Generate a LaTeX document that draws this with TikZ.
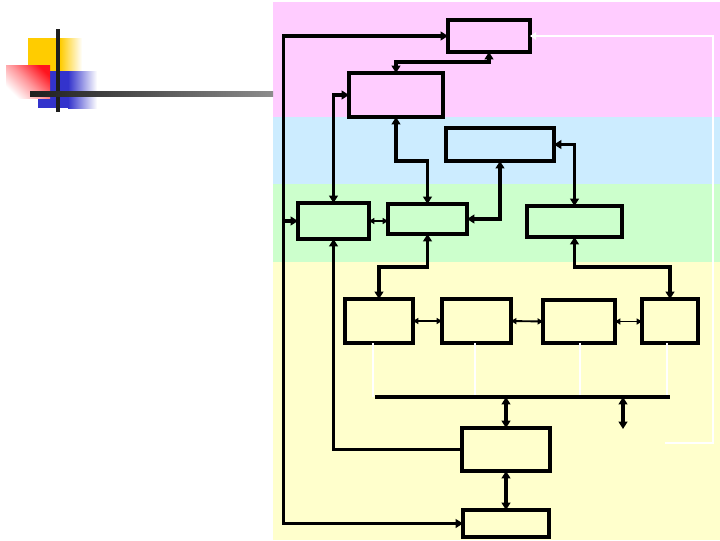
\documentclass[tikz,border=0pt]{standalone}
\usetikzlibrary{arrows.meta,shadings}
\definecolor{bpink}{RGB}{255,204,255}
\definecolor{bblue}{RGB}{204,236,255}
\definecolor{bgreen}{RGB}{204,255,204}
\definecolor{byellow}{RGB}{255,255,204}
\definecolor{lyellow}{RGB}{255,204,0}
\definecolor{lblue}{RGB}{51,51,204}
\definecolor{lred}{RGB}{255,20,30}
\definecolor{ldark}{RGB}{30,30,30}
\tikzset{
  Tk/.tip={Triangle[length=5.5pt,width=6.5pt]},
  Tn/.tip={Triangle[length=4pt,width=4.5pt]},
  box/.style={draw=black,line width=2.7pt,fill=none,inner sep=0pt,outer sep=0pt},
  con/.style={line width=2.7pt,draw=black},
  thn/.style={line width=1.4pt,draw=black},
  wht/.style={line width=1.8pt,draw=white},
}
\newcommand\blk[5]{\node[box,minimum width=#4*0.75pt,minimum height=#5*0.75pt] (#1) at (#2,#3) {};}
\begin{document}
\begin{tikzpicture}[x=0.75pt,y=-0.75pt]
\useasboundingbox (0,0) rectangle (720,540);
% background bands
\fill[bpink] (273,2) rectangle (720,117);
\fill[bblue] (273,117) rectangle (720,184);
\fill[bgreen] (273,184) rectangle (720,262);
\fill[byellow] (273,262) rectangle (720,540);
% logo
\fill[lyellow] (28,38) rectangle (60,71);
\shade[left color=lyellow,right color=white] (60,38) rectangle (82,71);
\fill[lblue] (38,71) rectangle (68,108);
\shade[left color=lblue,right color=white] (68,71) rectangle (97,108);
\shade[top color=lred,bottom color=white,middle color=lred!45,shading angle=-45] (6,65) rectangle (50,98);
\fill[ldark] (56,29) rectangle (60,112);
\shade[left color=ldark,right color=black!45] (30,91) rectangle (273,96);
% boxes
\blk{A}{489}{36}{82}{32}
\blk{B}{396}{95}{94}{44}
\blk{C}{500}{144.5}{108}{33}
\blk{D}{333.5}{221}{71}{36}
\blk{E}{427.5}{219}{79}{30}
\blk{F}{574.5}{221.5}{95}{31}
\blk{G1}{379}{321}{68}{44}
\blk{G2}{476.5}{321}{69}{44}
\blk{G3}{579}{321.5}{72}{43}
\blk{G4}{670}{321}{56}{44}
\blk{H}{506}{449.5}{88}{43}
\blk{I}{506}{523.5}{86}{27}
% coordinates
\coordinate (L) at (284,221);
\coordinate (bus1) at (375,397);
\coordinate (bus2) at (670,397);
\coordinate (x1) at (623,397);
\coordinate (x2) at (623,429);
\coordinate (w0) at (665,443);
\coordinate (w1) at (713,443);
% thick connectors
\draw[con,Tk-Tk] (A.west) -- ++(-164.5,0) |- (I.west);
\draw[con,-Tk] (L) -- (D.west);
\draw[con,Tk-Tk] (B.west) -| (D.north);
\draw[con,Tk-Tk] (A.south) -- ++(0,10) -| (B.north);
\draw[con,Tk-Tk] (B.south) -- ++(0,44) -| (E.north);
\draw[con,Tk-Tk] (C.south) |- (E.east);
\draw[con,Tk-Tk] (C.east) -| (F.north);
\draw[con,Tk-Tk] (E.south) -- ++(0,33) -| (G1.north);
\draw[con,Tk-Tk] (F.south) -- ++(0,30) -| (G4.north);
\draw[con,Tk-Tk] (H.north |- bus1) -- (H.north);
\draw[con,Tk-Tk] (x1) -- (x2);
\draw[con,Tk-Tk] (H.south) -- (I.north);
% bus and white feeders
\draw[wht] ([xshift=-4.5pt]G1.south) -- ([xshift=-4.5pt]G1.south |- bus1);
\draw[wht] ([xshift=-1.1pt]G2.south) -- ([xshift=-1.1pt]G2.south |- bus1);
\draw[wht] ([xshift=0.75pt]G3.south) -- ([xshift=0.75pt]G3.south |- bus1);
\draw[wht] ([xshift=-2.2pt]G4.south) -- ([xshift=-2.2pt]G4.south |- bus1);
\draw[con] (bus1) -- (bus2);
% thin connectors
\draw[thn,Tn-Tn] (D.east) -- (D.east -| E.west);
\draw[thn,Tn-Tn] (G1.east) -- (G2.west);
\draw[thn,Tn-Tn] (G2.east) -- (G3.west);
\draw[thn,Tn-Tn] (G3.east) -- (G3.east -| G4.west);
\draw[line width=1.6pt,-Tk] (H.west) -| (D.south);
% white feedback
\draw[wht,-{Triangle[length=4.5pt,width=5.5pt]}] (w0) -- (w1) |- (A.east);
\end{tikzpicture}
\end{document}
